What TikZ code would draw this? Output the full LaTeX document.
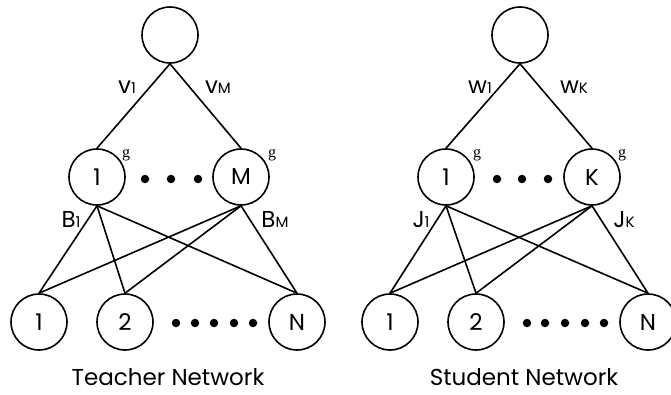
\documentclass[tikz,border=0pt]{standalone}
\usepackage{fontspec}
\setmainfont{Poppins}
\newfontfamily\gfont{Liberation Serif}
\begin{document}
\begin{tikzpicture}[x=1pt,y=-1pt,
  neuron/.style={circle,draw,line width=1.6pt,minimum size=56pt,inner sep=0pt,font=\fontsize{23}{23}\selectfont},
  conn/.style={line width=1.6pt},
  wlab/.style={anchor=base,inner sep=0pt,font=\fontsize{23}{23}\selectfont},
  glab/.style={anchor=base,inner sep=0pt,font=\gfont\fontsize{16}{16}\selectfont},
  title/.style={anchor=base,inner sep=0pt,font=\fontsize{23}{23}\selectfont},
  dotc/.style={circle,fill,inner sep=0pt,minimum size=8.5pt}]
\useasboundingbox (0,0) rectangle (671,394);
\newcommand{\sbs}[1]{{\fontsize{15}{15}\selectfont #1}}
% ---------- Teacher ----------
\node[neuron] (tt) at (170,35) {};
\node[neuron] (th1) at (97,177) {1};
\node[neuron] (thM) at (241,177) {M};
\node[neuron] (ti1) at (39,322) {1};
\node[neuron] (ti2) at (125,322) {2};
\node[neuron] (tiN) at (297,322) {N};
\draw[conn] (tt.south) -- (th1.north);
\draw[conn] (tt.south) -- (thM.north);
\foreach \h in {th1,thM}{
  \foreach \i in {ti1,ti2,tiN}{
    \draw[conn] (\h.south) -- (\i.north);
  }
}
\node[wlab] (tv1) at (127,93) {v\sbs{1}};
\node[wlab] (tvM) at (218,93) {v\sbs{M}};
\node[wlab] (tB1) at (71,227) {B\sbs{1}};
\node[wlab] (tBM) at (275,227) {B\sbs{M}};
\node[glab] (tg1) at (126,157) {g};
\node[glab] (tgM) at (272,157) {g};
\foreach \x [count=\k] in {145,171,198}{\node[dotc] (thd\k) at (\x,179) {};}
\foreach \x [count=\k] in {176,195,214,234,253}{\node[dotc] (tid\k) at (\x,323) {};}
\node[title] (ttitle) at (168,385) {Teacher Network};
% ---------- Student ----------
\node[neuron] (st) at (520,35) {};
\node[neuron] (sh1) at (446,177) {1};
\node[neuron] (shK) at (592,177) {K};
\node[neuron] (si1) at (390,322) {1};
\node[neuron] (si2) at (476,322) {2};
\node[neuron] (siN) at (648,322) {N};
\draw[conn] (st.south) -- (sh1.north);
\draw[conn] (st.south) -- (shK.north);
\foreach \h in {sh1,shK}{
  \foreach \i in {si1,si2,siN}{
    \draw[conn] (\h.south) -- (\i.north);
  }
}
\node[wlab] (sw1) at (480,93) {w\sbs{1}};
\node[wlab] (swK) at (574,93) {w\sbs{K}};
\node[wlab] (sJ1) at (421,227) {J\sbs{1}};
\node[wlab] (sJK) at (624,227) {J\sbs{K}};
\node[glab] (sg1) at (477,157) {g};
\node[glab] (sgK) at (622,157) {g};
\foreach \x [count=\k] in {497,522,548}{\node[dotc] (shd\k) at (\x,179) {};}
\foreach \x [count=\k] in {527,545,565,585,604}{\node[dotc] (sid\k) at (\x,323) {};}
\node[title] (stitle) at (524,385) {Student Network};
\end{tikzpicture}
\end{document}
